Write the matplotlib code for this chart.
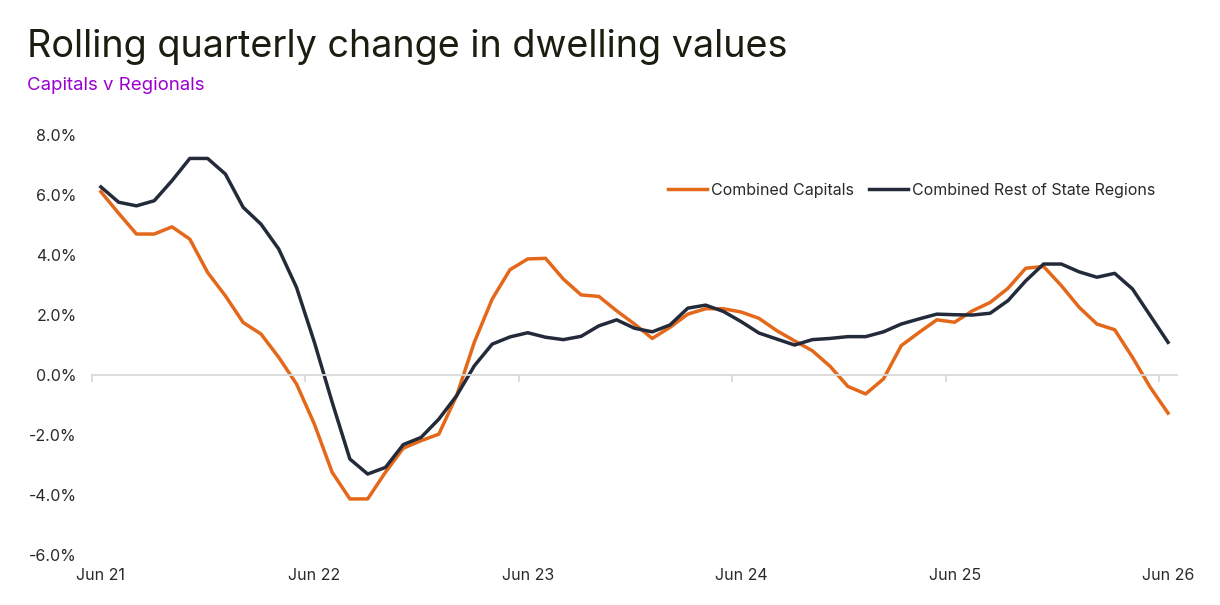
import matplotlib.pyplot as plt
import numpy as np
from matplotlib.ticker import FuncFormatter

# monthly, Jun 21 .. Jun 26
capitals = [6.11, 5.39, 4.70, 4.70, 4.94, 4.53, 3.42, 2.64, 1.75, 1.37,
            0.59, -0.30, -1.63, -3.24, -4.13, -4.13, -3.24, -2.44, -2.19, -1.97,
            -0.69, 1.10, 2.53, 3.51, 3.87, 3.89, 3.20, 2.67, 2.62, 2.14,
            1.70, 1.22, 1.59, 2.03, 2.21, 2.21, 2.10, 1.89, 1.48, 1.14,
            0.81, 0.29, -0.38, -0.63, -0.13, 0.98, 1.42, 1.84, 1.76, 2.14,
            2.42, 2.89, 3.56, 3.62, 2.98, 2.26, 1.70, 1.51, 0.59, -0.41,
            -1.27]
regions = [6.27, 5.76, 5.64, 5.81, 6.48, 7.22, 7.22, 6.70, 5.59, 5.03,
           4.20, 2.92, 1.10, -0.90, -2.80, -3.30, -3.08, -2.32, -2.08, -1.47,
           -0.69, 0.31, 1.03, 1.27, 1.41, 1.26, 1.18, 1.29, 1.64, 1.84,
           1.56, 1.44, 1.67, 2.23, 2.33, 2.12, 1.78, 1.40, 1.20, 1.00,
           1.18, 1.22, 1.28, 1.28, 1.44, 1.70, 1.87, 2.03, 2.01, 2.00,
           2.06, 2.48, 3.14, 3.70, 3.70, 3.44, 3.26, 3.39, 2.87, 1.98,
           1.09]
xlabels = ['Jun 21', 'Jun 22', 'Jun 23', 'Jun 24', 'Jun 25', 'Jun 26']

plt.rcParams['font.family'] = ['Inter', 'DejaVu Sans']

fig = plt.figure(figsize=(12.2, 6.05), dpi=100)
ax = fig.add_axes([0.0754, 0.0826, 0.8893, 0.6942])

x = np.arange(len(capitals))
ax.plot(x, capitals, color='#E4681A', lw=2.5, label='Combined Capitals')
ax.plot(x, regions, color='#232B3B', lw=2.5, label='Combined Rest of State Regions')

ax.set_xlim(-0.5, len(capitals) - 0.5)
ax.set_ylim(-6, 8)
ax.set_yticks(np.arange(-6, 9, 2))
ax.yaxis.set_major_formatter(FuncFormatter(lambda v, p: '{:.1f}%'.format(v)))
ax.tick_params(axis='y', length=0, pad=11, labelsize=11.5, labelcolor='#2a2a2a')

for s in ['top', 'right', 'left']:
    ax.spines[s].set_visible(False)
ax.spines['bottom'].set_position(('data', 0))
ax.spines['bottom'].set_color('#d9d9d9')
ax.spines['bottom'].set_linewidth(1.3)
ax.set_xticks(np.arange(-0.5, len(capitals), 12))
ax.set_xticklabels([])
ax.tick_params(axis='x', length=5, width=1.3, color='#d9d9d9')

sec = ax.secondary_xaxis('bottom')
sec.set_xticks(np.arange(0, len(capitals), 12))
sec.set_xticklabels(xlabels)
sec.tick_params(length=0, pad=9, labelsize=11.5, labelcolor='#2a2a2a')
sec.spines['bottom'].set_visible(False)

ax.legend(loc='center right', bbox_to_anchor=(0.993, 0.869), frameon=False,
          ncol=2, fontsize=11.5, handlelength=2.4, handletextpad=0.25,
          columnspacing=1.0, labelcolor='#2a2a2a')

fig.text(0.022, 0.922, 'Rolling quarterly change in dwelling values',
         fontsize=27.2, color='#1c1c10', va='center')
fig.text(0.022, 0.859, 'Capitals v Regionals', fontsize=13.4, color='#9B00D0',
         va='center')

fig.savefig('out.png', dpi=100)
